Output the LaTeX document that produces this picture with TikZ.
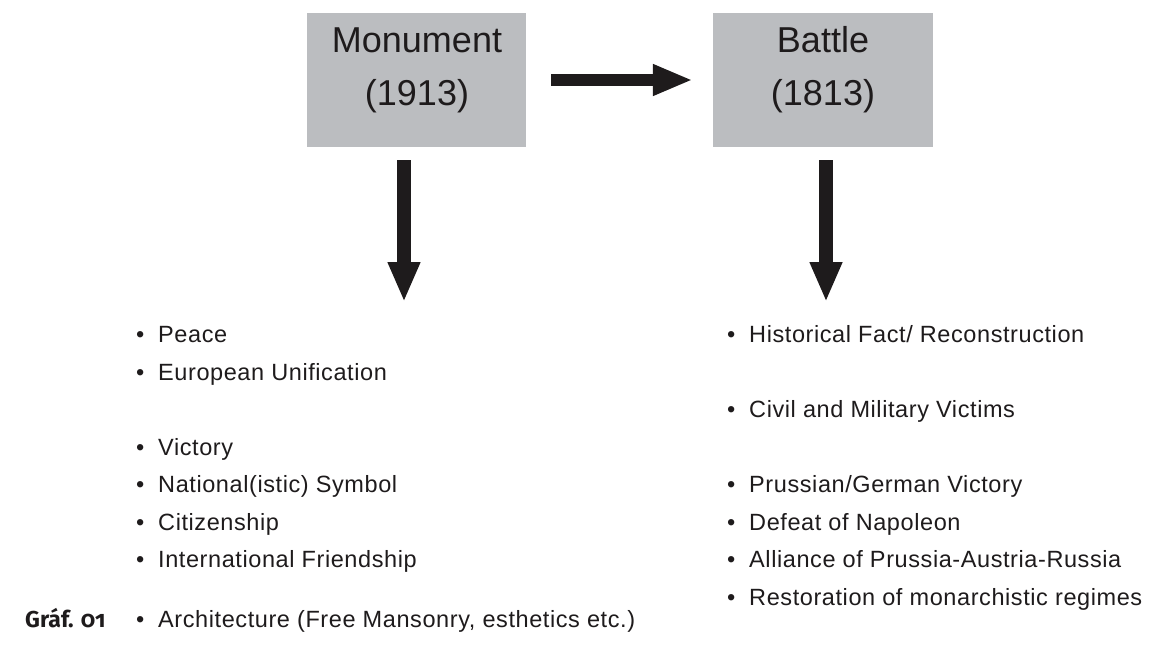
\documentclass[tikz,border=0pt]{standalone}
\usepackage{fontspec}
\setmainfont{Liberation Sans}
\newfontfamily\itemfont[LetterSpace=2.5]{Liberation Sans}
\newfontfamily\grafont[Numbers=OldStyle]{Fira Sans}
\usetikzlibrary{arrows.meta}
\definecolor{boxgray}{RGB}{187,189,192}
\definecolor{ink}{RGB}{30,27,28}
\begin{document}
\begin{tikzpicture}[x=1pt,y=-1pt,
  box/.style={fill=boxgray, draw=none, minimum width=220pt, minimum height=134pt, inner sep=0pt},
  boxtext/.style={font=\fontsize{36}{42}\selectfont, text=ink, anchor=base, inner sep=0pt},
  item/.style={font=\itemfont\fontsize{23.5}{28}\selectfont, text=ink, anchor=base west, inner sep=0pt},
  harrow/.style={draw=ink, line width=12pt, -{Triangle[length=40pt,width=29pt]}},
  varrow/.style={draw=ink, line width=14pt, -{Triangle[length=40pt,width=30pt]}}]
\useasboundingbox (0,0) rectangle (1172,645);
% boxes
\node[box, minimum width=219pt] (m) at (416.5,80) {};
\node[box] (b) at (823,80) {};
\node[boxtext] (m1) at (417,52) {Monument};
\node[boxtext] (m2) at (417,105) {(1913)};
\node[boxtext] (b1) at (823,52) {Battle};
\node[boxtext] (b2) at (823,105) {(1813)};
% arrows
\draw[harrow, shorten <=25pt, shorten >=20pt] (m.east) -- (b.west);
\coordinate (ls) at (404,160);
\coordinate (le) at (404,302);
\coordinate (rs) at (826,160);
\coordinate (re) at (826,302);
\draw[varrow] (ls) -- (le);
\draw[varrow] (rs) -- (re);
% left list
\newcommand\itm[1]{\makebox[22pt][l]{\textbullet}#1}
\node[item] (l1) at (136,342) {\itm{Peace}};
\node[item] (l2) at (136,380) {\itm{European Unification}};
\node[item] (l3) at (136,455) {\itm{Victory}};
\node[item] (l4) at (136,492) {\itm{National(istic) Symbol}};
\node[item] (l5) at (136,530) {\itm{Citizenship}};
\node[item] (l6) at (136,567) {\itm{International Friendship}};
\node[item] (l7) at (136,627) {\itm{Architecture (Free Mansonry, esthetics etc.)}};
% right list
\node[item] (r1) at (727,342) {\itm{Historical Fact/ Reconstruction}};
\node[item] (r2) at (727,417) {\itm{Civil and Military Victims}};
\node[item] (r3) at (727,492) {\itm{Prussian/German Victory}};
\node[item] (r4) at (727,530) {\itm{Defeat of Napoleon}};
\node[item] (r5) at (727,567) {\itm{Alliance of Prussia-Austria-Russia}};
\node[item] (r6) at (727,605) {\itm{Restoration of monarchistic regimes}};
% caption
\node[anchor=base west, inner sep=0pt, text=ink, font=\grafont\bfseries\fontsize{23}{27}\selectfont] (g) at (25,627) {Gráf. 01};
\end{tikzpicture}
\end{document}
